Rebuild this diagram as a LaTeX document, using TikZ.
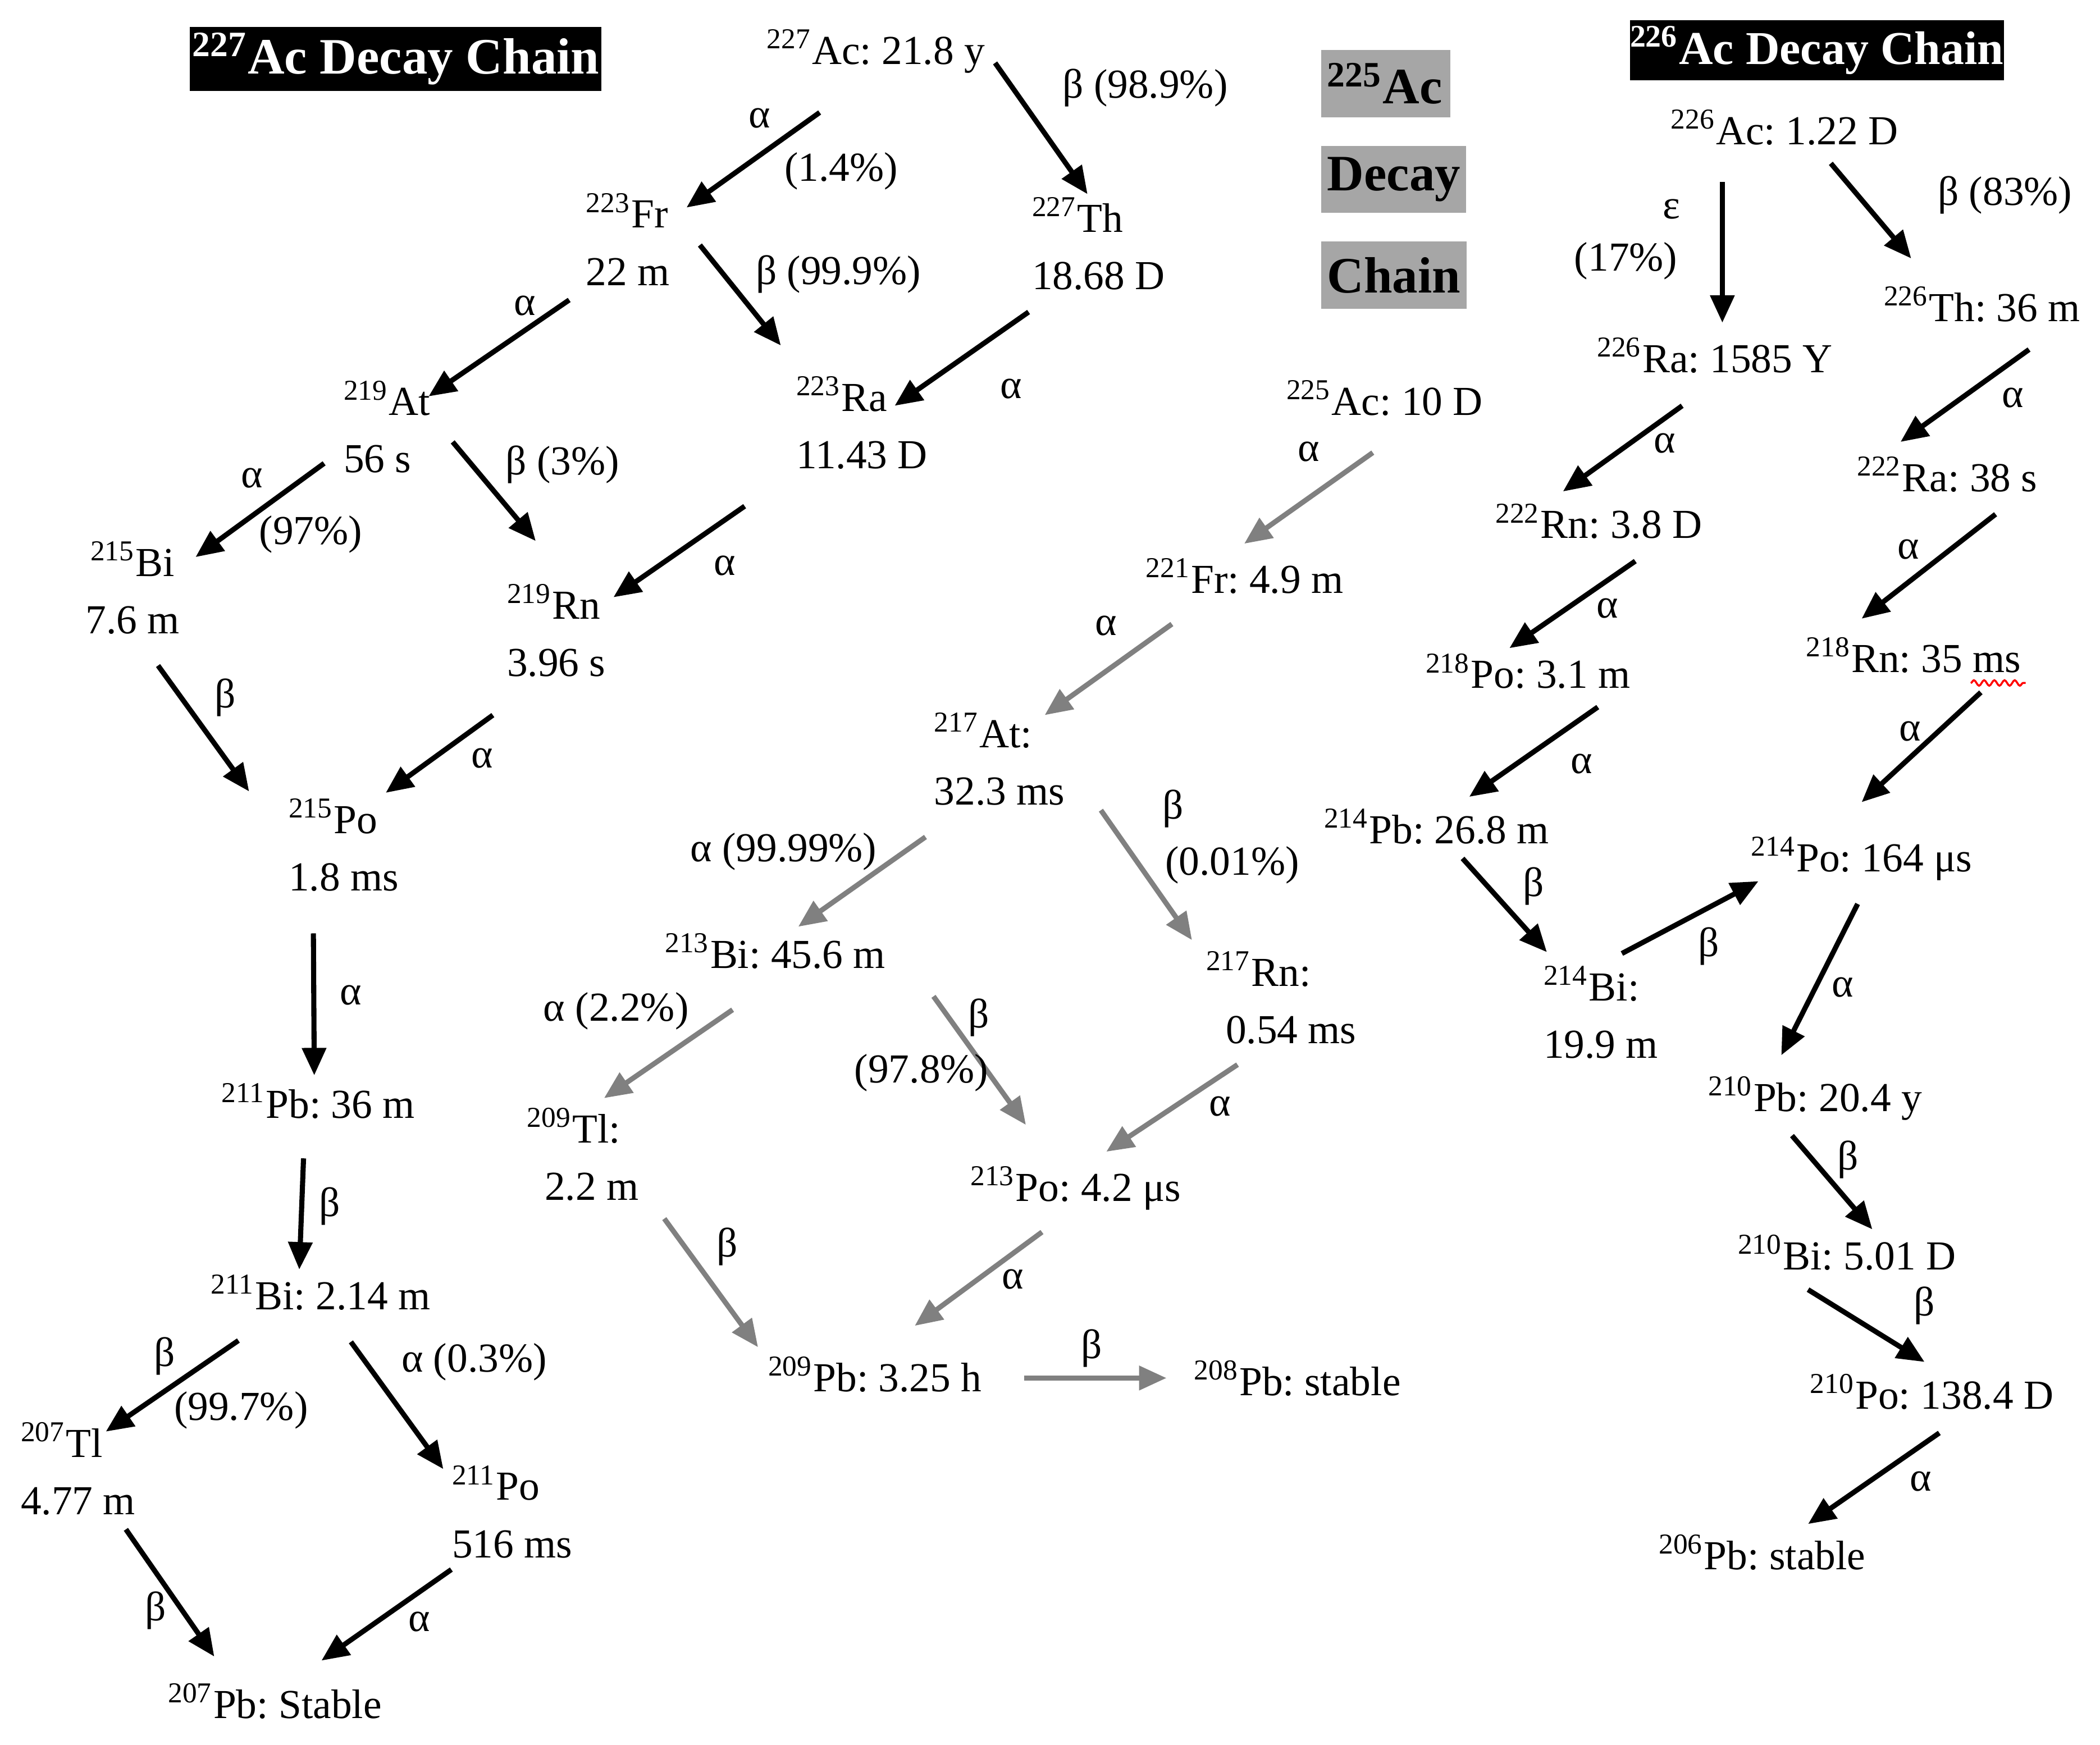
\documentclass[tikz,border=0pt]{standalone}
\usepackage{fontspec}
\setmainfont{Liberation Serif}
\usepackage{tikz}
\usetikzlibrary{arrows.meta, calc, decorations.pathmorphing}
\definecolor{decaygray}{RGB}{128,128,128}
\definecolor{boxgray}{RGB}{166,166,166}
\newcommand{\nuc}[2]{\textsuperscript{#1}#2}
\frenchspacing

\begin{document}
\begin{tikzpicture}[
    x=0.012cm, y=-0.012cm,
    font=\fontsize{10.5}{14.6}\selectfont,
    iso/.style={anchor=base west, inner sep=0pt, align=left},
    lbl/.style={inner sep=0pt, text height=7pt, text depth=2pt},
    title/.style={fill=black, text=white, inner sep=0pt, font=\fontsize{13}{15}\selectfont\bfseries},
    legend/.style={fill=boxgray, anchor=west, inner xsep=1.5pt, inner ysep=0pt,
                   minimum height=0.6cm, font=\fontsize{13}{15}\selectfont\bfseries},
    arr/.style={-{Triangle[length=7pt,width=6pt]}, line width=1.3pt},
    garr/.style={arr, color=decaygray},
]
\useasboundingbox (0,0) rectangle (1568,1303);

\node[title, minimum width=3.684cm, minimum height=0.576cm] (t227) at (295.5,44) {\nuc{227}{Ac} Decay Chain};
\node[title, minimum width=3.348cm, minimum height=0.54cm, font=\fontsize{12}{14}\selectfont\bfseries] (t226) at (1356.5,37.5) {\nuc{226}{Ac} Decay Chain};
\node[legend, text width=1.05cm, align=left] (l225) at (986,62.5) {\nuc{225}{Ac}};
\node[legend] (ldecay) at (986,134) {Decay};
\node[legend] (lchain) at (986,205.5) {Chain};

\node[iso] (ac227) at (572,48) {\nuc{227}{Ac}: 21.8 y};
\node[iso] (fr223) at (437,213) {\nuc{223}{Fr}\\22 m};
\node[iso] (th227) at (770,216) {\nuc{227}{Th}\\18.68 D};
\node[iso] (at219) at (256,353) {\nuc{219}{At}\\56 s};
\node[iso] (ra223) at (594,350) {\nuc{223}{Ra}\\11.43 D};
\node[iso, anchor=base, align=center] (bi215) at (99,473) {\nuc{215}{Bi}\\7.6 m};
\node[iso] (rn219) at (378,505) {\nuc{219}{Rn}\\3.96 s};
\node[iso] (po215) at (215,665) {\nuc{215}{Po}\\1.8 ms};
\node[iso] (pb211) at (165,835) {\nuc{211}{Pb}: 36 m};
\node[iso] (bi211) at (157,978) {\nuc{211}{Bi}: 2.14 m};
\node[iso] (tl207) at (15,1131) {\nuc{207}{Tl}\\4.77 m};
\node[iso] (po211) at (337,1163) {\nuc{211}{Po}\\516 ms};
\node[iso] (pb207) at (125,1283) {\nuc{207}{Pb}: Stable};

\node[iso] (ac225) at (960,310) {\nuc{225}{Ac}: 10 D};
\node[iso] (fr221) at (855,443) {\nuc{221}{Fr}: 4.9 m};
\node[iso] (at217) at (697,601) {\nuc{217}{At}:\\32.3 ms};
\node[iso] (bi213) at (496,723) {\nuc{213}{Bi}: 45.6 m};
\node[iso] (rn217) at (900,779) {\nuc{217}{Rn}:\\\hspace*{5pt}0.54 ms};
\node[iso] (tl209) at (393,896) {\nuc{209}{Tl}:\\\hspace*{4.5pt}2.2 m};
\node[iso] (po213) at (724,897) {\nuc{213}{Po}: 4.2 μs};
\node[iso] (pb209) at (573,1039) {\nuc{209}{Pb}: 3.25 h};
\node[iso] (pb208) at (891,1042) {\nuc{208}{Pb}: stable};

\node[iso] (ac226) at (1247,108) {\nuc{226}{Ac}: 1.22 D};
\node[iso] (th226) at (1406,240) {\nuc{226}{Th}: 36 m};
\node[iso] (ra226) at (1192,278) {\nuc{226}{Ra}: 1585 Y};
\node[iso] (ra222) at (1386,367) {\nuc{222}{Ra}: 38 s};
\node[iso] (rn222) at (1116,402) {\nuc{222}{Rn}: 3.8 D};
\node[iso] (rn218) at (1348,502) {\nuc{218}{Rn}: 35 ms};
\node[iso] (po218) at (1064,514) {\nuc{218}{Po}: 3.1 m};
\node[iso] (pb214) at (988,630) {\nuc{214}{Pb}: 26.8 m};
\node[iso] (po214) at (1307,651) {\nuc{214}{Po}: 164 μs};
\node[iso] (bi214) at (1152,790) {\nuc{214}{Bi}:\\19.9 m};
\node[iso] (pb210) at (1275,830) {\nuc{210}{Pb}: 20.4 y};
\node[iso] (bi210) at (1297,948) {\nuc{210}{Bi}: 5.01 D};
\node[iso] (po210) at (1351,1052) {\nuc{210}{Po}: 138.4 D};
\node[iso] (pb206) at (1238,1172) {\nuc{206}{Pb}: stable};

\draw[red, line width=0.5pt, decorate, decoration={snake, amplitude=0.7pt, segment length=2.6pt}]
    ($(rn218.base east)+(-38,8)$) -- ($(rn218.base east)+(3,8)$);

\draw[arr] ($(ac227.base west)+(40,36)$) -- ($(fr223.base east)+(12,-58)$);
\draw[arr] ($(ac227.base east)+(7,-1)$) -- ($(th227.base west)+(42,-71)$);
\draw[arr] ($(fr223.base east)+(22,-30)$) -- ($(ra223.base west)+(-11,-92)$);
\draw[arr] ($(th227.base west)+(-2,17)$) -- ($(ra223.base west)+(74,-47)$);
\draw[arr] ($(fr223.base west)+(-12,11)$) -- ($(at219.base west)+(64,-57)$);
\draw[arr] ($(at219.base west)+(-14,-7)$) -- ($(bi215.base)+(47,-57)$);
\draw[arr] ($(at219.base west)+(82,-23)$) -- ($(rn219.base west)+(22,-101)$);
\draw[arr] ($(ra223.base west)+(-38,28)$) -- ($(rn219.base west)+(80,-59)$);
\draw[arr] ($(bi215.base)+(19,24)$) -- ($(po215.base west)+(-29,-74)$);
\draw[arr] ($(rn219.base west)+(-10,29)$) -- ($(po215.base west)+(73,-73)$);
\draw[arr] ($(po215.base west)+(19,32)$) -- ($(pb211.base)+(-3,-32)$);
\draw[arr] ($(pb211.base)+(-11,30)$) -- ($(bi211.base)+(-16,-30)$);
\draw[arr] ($(bi211.base west)+(21,23)$) -- ($(tl207.base west)+(64,-62)$);
\draw[arr] ($(bi211.base west)+(105,24)$) -- ($(po211.base west)+(-6,-66)$);
\draw[arr] ($(tl207.base west)+(79,11)$) -- ($(pb207.base west)+(35,-46)$);
\draw[arr] ($(po211.base west)+(0,9)$) -- ($(pb207.base west)+(115,-43)$);

\draw[garr] ($(ac225.base west)+(65,28)$) -- ($(fr221.base west)+(74,-37)$);
\draw[garr] ($(fr221.base west)+(20,23)$) -- ($(at217.base west)+(83,-67)$);
\draw[garr] ($(at217.base west)+(-6,24)$) -- ($(bi213.base west)+(100,-31)$);
\draw[garr] ($(at217.base west)+(125,4)$) -- ($(rn217.base west)+(-10,-77)$);
\draw[garr] ($(bi213.base west)+(51,31)$) -- ($(tl209.base west)+(58,-76)$);
\draw[garr] ($(bi213.base west)+(201,21)$) -- ($(po213.base west)+(42,-57)$);
\draw[garr] ($(rn217.base west)+(24,16)$) -- ($(po213.base west)+(102,-37)$);
\draw[garr] ($(tl209.base west)+(103,14)$) -- ($(pb209.base west)+(-7,-33)$);
\draw[garr] ($(po213.base west)+(54,23)$) -- ($(pb209.base west)+(110,-49)$);
\draw[garr] ($(pb209.base east)+(31,-10)$) -- ($(pb208.base west)+(-20,-13)$);

\draw[arr] ($(ac226.base west)+(39,28)$) -- ($(ra226.base west)+(94,-37)$);
\draw[arr] ($(ac226.base west)+(120,14)$) -- ($(th226.base west)+(21,-47)$);
\draw[arr] ($(th226.base west)+(109,21)$) -- ($(ra222.base west)+(33,-37)$);
\draw[arr] ($(ra226.base west)+(64,25)$) -- ($(rn222.base west)+(51,-35)$);
\draw[arr] ($(ra222.base west)+(104,17)$) -- ($(rn218.base west)+(42,-40)$);
\draw[arr] ($(rn222.base west)+(105,17)$) -- ($(po218.base west)+(63,-30)$);
\draw[arr] ($(rn218.base west)+(131,15)$) -- ($(po214.base west)+(83,-52)$);
\draw[arr] ($(po218.base west)+(129,14)$) -- ($(pb214.base west)+(109,-35)$);
\draw[arr] ($(pb214.base west)+(104,11)$) -- ($(bi214.base west)+(3,-79)$);
\draw[arr] ($(bi214.base west)+(59,-78)$) -- ($(po214.base west)+(6,7)$);
\draw[arr] ($(po214.base west)+(80,24)$) -- ($(pb210.base west)+(55,-42)$);
\draw[arr] ($(pb210.base west)+(63,18)$) -- ($(bi210.base west)+(101,-30)$);
\draw[arr] ($(bi210.base west)+(53,15)$) -- ($(po210.base west)+(86,-35)$);
\draw[arr] ($(po210.base west)+(97,18)$) -- ($(pb206.base west)+(112,-34)$);

\node[lbl] (lab1) at (567,88) {α};
\node[lbl] (lab2) at (628,128) {(1.4\%)};
\node[lbl] (lab3) at (855,66) {β (98.9\%)};
\node[lbl] (lab4) at (626,205) {β (99.9\%)};
\node[lbl] (lab5) at (755,290) {α};
\node[lbl] (lab6) at (392,228) {α};
\node[lbl] (lab7) at (188,357) {α};
\node[lbl] (lab8) at (232,399) {(97\%)};
\node[lbl] (lab9) at (420,347) {β (3\%)};
\node[lbl] (lab10) at (541,422) {α};
\node[lbl] (lab11) at (168,521) {β};
\node[lbl] (lab12) at (360,566) {α};
\node[lbl] (lab13) at (262,743) {α};
\node[lbl] (lab14) at (246,901) {β};
\node[lbl] (lab15) at (123,1013) {β};
\node[lbl] (lab16) at (180,1053) {(99.7\%)};
\node[lbl] (lab17) at (354,1017) {α (0.3\%)};
\node[lbl] (lab18) at (116,1203) {β};
\node[lbl] (lab19) at (313,1211) {α};

\node[lbl] (lab20) at (977,337) {α};
\node[lbl] (lab21) at (826,467) {α};
\node[lbl] (lab22) at (585,636) {α (99.99\%)};
\node[lbl] (lab23) at (876,604) {β};
\node[lbl] (lab24) at (920,646) {(0.01\%)};
\node[lbl] (lab25) at (460,755) {α (2.2\%)};
\node[lbl] (lab26) at (731,760) {β};
\node[lbl] (lab27) at (688,801) {(97.8\%)};
\node[lbl] (lab28) at (911,826) {α};
\node[lbl] (lab29) at (543,931) {β};
\node[lbl] (lab30) at (756,955) {α};
\node[lbl] (lab31) at (815,1007) {β};

\node[lbl] (lab32) at (1248,156) {ε};
\node[lbl] (lab33) at (1214,195) {(17\%)};
\node[lbl] (lab34) at (1497,146) {β (83\%)};
\node[lbl] (lab35) at (1503,297) {α};
\node[lbl] (lab36) at (1243,331) {α};
\node[lbl] (lab37) at (1425,410) {α};
\node[lbl] (lab38) at (1200,454) {α};
\node[lbl] (lab39) at (1426,546) {α};
\node[lbl] (lab40) at (1181,570) {α};
\node[lbl] (lab41) at (1145,662) {β};
\node[lbl] (lab42) at (1276,707) {β};
\node[lbl] (lab43) at (1376,737) {α};
\node[lbl] (lab44) at (1380,866) {β};
\node[lbl] (lab45) at (1437,975) {β};
\node[lbl] (lab46) at (1434,1106) {α};
\end{tikzpicture}
\end{document}
